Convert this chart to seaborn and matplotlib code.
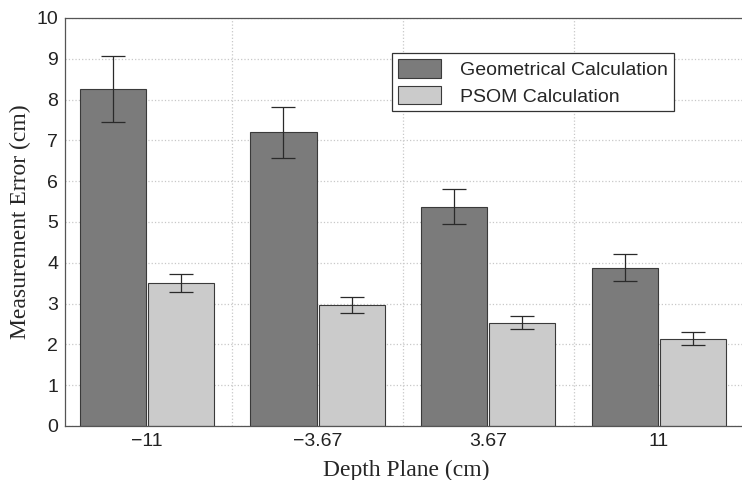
import numpy as np
import pandas as pd
import matplotlib
matplotlib.use('Agg')
import matplotlib.pyplot as plt
import seaborn as sns

planes = ['\u221211', '\u22123.67', '3.67', '11']
methods = ['Geometrical Calculation', 'PSOM Calculation']
geo_mean = [8.27, 7.20, 5.37, 3.87]
geo_low = [7.45, 6.57, 4.95, 3.55]
geo_high = [9.07, 7.83, 5.80, 4.22]
psom_mean = [3.50, 2.97, 2.53, 2.13]
psom_low = [3.29, 2.78, 2.37, 1.98]
psom_high = [3.73, 3.17, 2.70, 2.30]

df = pd.DataFrame({
    'plane': planes * 2,
    'method': [methods[0]] * 4 + [methods[1]] * 4,
    'err': geo_mean + psom_mean,
})

sns.set_style('white')
plt.rcParams['font.family'] = ['Liberation Sans', 'DejaVu Sans']

fig = plt.figure(figsize=(7.42, 4.8), dpi=100)
ax = fig.add_axes([0.0876, 0.1125, 0.92, 0.85])

sns.barplot(data=df, x='plane', y='err', hue='method', order=planes, hue_order=methods,
            palette=['#7b7b7b', '#cbcbcb'], errorbar=None, width=0.8,
            edgecolor='#3a3a3a', linewidth=0.8, saturation=1, ax=ax, zorder=2)

# shrink bars a touch so a thin gap shows between the pair
for patch in ax.patches[:8]:
    w = patch.get_width()
    patch.set_x(patch.get_x() + 0.006)
    patch.set_width(w - 0.012)

# asymmetric error bars placed on the bar centres
lows = geo_low + psom_low
highs = geo_high + psom_high
means = geo_mean + psom_mean
for patch, m, lo, hi in zip(ax.patches[:8], means, lows, highs):
    xc = patch.get_x() + patch.get_width() / 2
    ax.errorbar(xc, m, yerr=[[m - lo], [hi - m]], fmt='none', ecolor='#2a2a2a',
                elinewidth=0.9, capsize=8.5, capthick=0.9, zorder=3)

ax.set_xlim(-0.48, 3.52)
ax.set_ylim(0, 10)
ax.set_yticks(range(11))
ax.set_xticks([0.5, 1.5, 2.5], minor=True)
ax.grid(axis='y', which='major', color='#c8c8c8', linestyle=':', linewidth=0.9, zorder=0)
ax.grid(axis='x', which='minor', color='#c8c8c8', linestyle=':', linewidth=0.9, zorder=0)
ax.set_axisbelow(True)
ax.tick_params(axis='both', which='both', length=0, labelsize=14, labelcolor='#222222', pad=5)

for s in ['left', 'top', 'bottom']:
    ax.spines[s].set_color('#555555')
    ax.spines[s].set_linewidth(0.9)
ax.spines['right'].set_visible(False)

ax.set_xlabel('Depth Plane (cm)', family=['Liberation Serif'], fontsize=17, labelpad=7)
ax.set_ylabel('Measurement Error (cm)', family=['Liberation Serif'], fontsize=17, labelpad=4)

leg = ax.legend(loc='upper left', bbox_to_anchor=(0.479, 0.914), borderaxespad=0,
                fontsize=14, frameon=True, fancybox=False, edgecolor='#333333',
                framealpha=1, borderpad=0.3, handlelength=2.2, handleheight=1.1,
                labelspacing=0.35, handletextpad=1.0)
leg.get_frame().set_linewidth(0.9)

fig.savefig('out.png', dpi=100)
